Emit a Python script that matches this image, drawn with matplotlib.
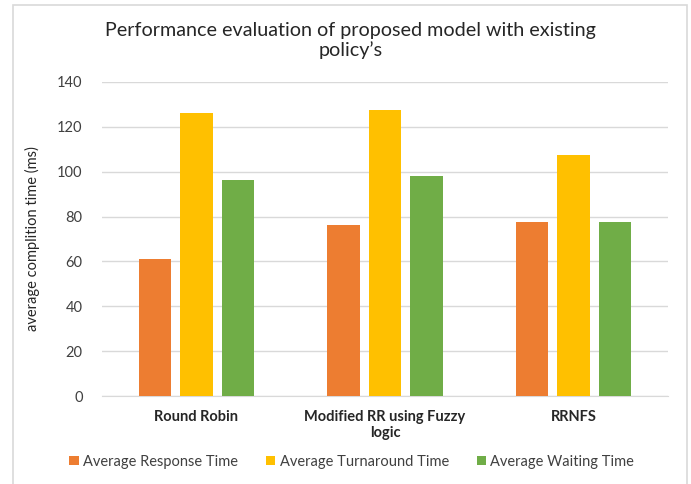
import numpy as np
import matplotlib.pyplot as plt
from matplotlib.patches import Rectangle

plt.rcParams['font.family'] = ['Lato', 'DejaVu Sans']

categories = ['Round Robin', 'Modified RR using Fuzzy\nlogic', 'RRNFS']
response = [61.2, 76.4, 77.8]
turnaround = [126.1, 127.7, 107.4]
waiting = [96.3, 97.9, 77.8]
series_names = ['Average Response Time', 'Average Turnaround Time', 'Average Waiting Time']
colors = ['#ED7D31', '#FFC000', '#70AD47']

fig = plt.figure(figsize=(6.91, 4.84), dpi=100)
ax = fig.add_axes([0.1476, 0.1818, 0.819, 0.6488])

# light frame around the whole chart
fig.patches.append(Rectangle((13 / 691, -0.02), 674 / 691, 1 - 5 / 484 + 0.02,
                             transform=fig.transFigure, fill=False,
                             edgecolor='#D9D9D9', linewidth=1.2))

x = np.arange(len(categories))
w = 0.172
step = 0.22
for i, (vals, name, c) in enumerate(zip([response, turnaround, waiting], series_names, colors)):
    ax.bar(x + (i - 1) * step, vals, width=w, color=c, label=name, zorder=3)

ax.set_xlim(-0.5, 2.5)
ax.set_ylim(0, 140)
ax.set_yticks(range(0, 141, 20))
ax.yaxis.grid(True, color='#D9D9D9', linewidth=1)
ax.set_axisbelow(True)
for s in ['top', 'right', 'left']:
    ax.spines[s].set_visible(False)
ax.spines['bottom'].set_color('#D9D9D9')
ax.tick_params(axis='both', length=0, colors='#404040')
ax.tick_params(axis='y', labelsize=10.5, pad=14)

ax.set_xticks(x)
ax.set_xticklabels(categories, fontsize=10.5, fontweight='bold', color='#262626',
                   linespacing=1.2)
ax.tick_params(axis='x', pad=10)

ax.set_ylabel('average complition time (ms)', fontsize=10.5, color='#262626', labelpad=12)

fig.text(0.507, 0.917, "Performance evaluation of proposed model with existing\npolicy\u2019s",
         ha='center', va='center', fontsize=14.2, color='#262626', linespacing=1.15)

fig.legend(loc='center', bbox_to_anchor=(0.509, 0.046), ncol=3, frameon=False,
           fontsize=10.5, handlelength=0.65, handleheight=0.65, handletextpad=0.3,
           columnspacing=1.9, labelcolor='#404040')

fig.savefig('out.png', dpi=100)
